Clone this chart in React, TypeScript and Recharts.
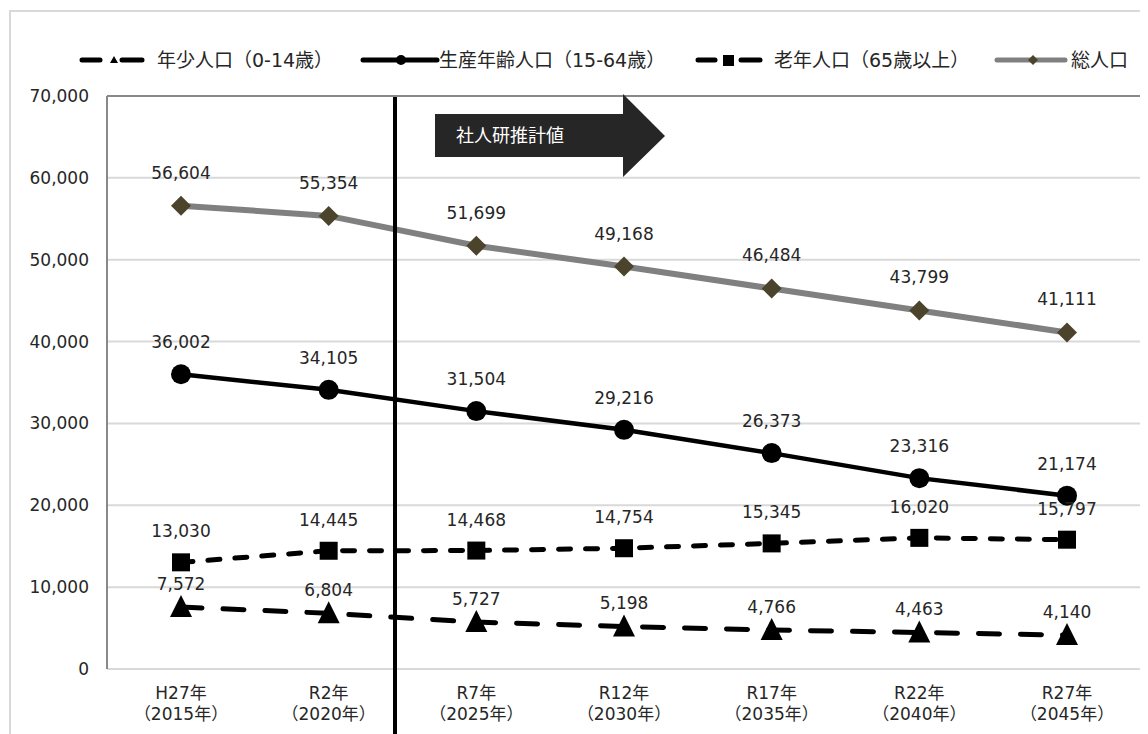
import React from "react";
import {
  LineChart,
  Line,
  XAxis,
  YAxis,
  CartesianGrid,
  ReferenceLine,
  LabelList,
} from "recharts";

const eraLabels = ["H27年", "R2年", "R7年", "R12年", "R17年", "R22年", "R27年"];
const yearLabels = ["（2015年）", "（2020年）", "（2025年）", "（2030年）", "（2035年）", "（2040年）", "（2045年）"];
const youngPop = [7572, 6804, 5727, 5198, 4766, 4463, 4140];
const workingPop = [36002, 34105, 31504, 29216, 26373, 23316, 21174];
const elderlyPop = [13030, 14445, 14468, 14754, 15345, 16020, 15797];
const totalPop = [56604, 55354, 51699, 49168, 46484, 43799, 41111];
const yTicks = [0, 10000, 20000, 30000, 40000, 50000, 60000, 70000];

const seriesNames = {
  young: "年少人口（0-14歳）",
  working: "生産年齢人口（15-64歳）",
  elderly: "老年人口（65歳以上）",
  total: "総人口",
};

const data = eraLabels.map((era, i) => ({
  era,
  year: yearLabels[i],
  young: youngPop[i],
  working: workingPop[i],
  elderly: elderlyPop[i],
  total: totalPop[i],
}));

const FONT = "'DejaVu Sans', 'Noto Sans CJK JP', sans-serif";
const TEXT = "#262626";
const fmt = (v: any) => Number(v).toLocaleString("en-US");

const TriangleDot = (p: any) => {
  const { cx, cy } = p;
  if (cx == null || cy == null) return null;
  return <polygon points={`${cx},${cy - 12} ${cx + 11},${cy + 10} ${cx - 11},${cy + 10}`} fill="#000" />;
};
const SquareDot = (p: any) => {
  const { cx, cy } = p;
  if (cx == null || cy == null) return null;
  return <rect x={cx - 9} y={cy - 9} width={18} height={18} fill="#000" />;
};
const CircleDot = (p: any) => {
  const { cx, cy } = p;
  if (cx == null || cy == null) return null;
  return <circle cx={cx} cy={cy} r={10} fill="#000" />;
};
const DiamondDot = (p: any) => {
  const { cx, cy } = p;
  if (cx == null || cy == null) return null;
  return <polygon points={`${cx},${cy - 10} ${cx + 10},${cy} ${cx},${cy + 10} ${cx - 10},${cy}`} fill="#4b432b" />;
};

const XTick = (p: any) => {
  const { x, y, payload } = p;
  const i = payload.index;
  return (
    <g transform={`translate(${x},${y})`}>
      <text textAnchor="middle" fontSize={17} fontFamily={FONT} fill={TEXT}>
        <tspan x={0} dy={28}>{eraLabels[i]}</tspan>
        <tspan x={0} dy={21}>{yearLabels[i]}</tspan>
      </text>
    </g>
  );
};

const LegendSwatch = ({ kind }: { kind: string }) => {
  if (kind === "young")
    return (
      <svg width={66} height={14} style={{ display: "block" }}>
        <line x1={3} y1={7} x2={21} y2={7} stroke="#000" strokeWidth={5} strokeLinecap="round" />
        <polygon points="35,3 39,10 31,10" fill="#000" />
        <line x1={43} y1={7} x2={63} y2={7} stroke="#000" strokeWidth={5} strokeLinecap="round" />
      </svg>
    );
  if (kind === "working")
    return (
      <svg width={80} height={14} style={{ display: "block" }}>
        <line x1={3} y1={7} x2={77} y2={7} stroke="#000" strokeWidth={5} strokeLinecap="round" />
        <circle cx={41} cy={7} r={5} fill="#000" />
      </svg>
    );
  if (kind === "elderly")
    return (
      <svg width={68} height={14} style={{ display: "block" }}>
        <line x1={3} y1={7} x2={20} y2={7} stroke="#000" strokeWidth={5} strokeLinecap="round" />
        <rect x={28} y={2} width={11} height={11} fill="#000" />
        <line x1={46} y1={7} x2={65} y2={7} stroke="#000" strokeWidth={5} strokeLinecap="round" />
      </svg>
    );
  return (
    <svg width={74} height={14} style={{ display: "block" }}>
      <line x1={3} y1={7} x2={71} y2={7} stroke="#808080" strokeWidth={5} strokeLinecap="round" />
      <polygon points="39,2 44,7 39,12 34,7" fill="#4b432b" />
    </svg>
  );
};

const legendItems = [
  { kind: "young", left: 79, textLeft: 157 },
  { kind: "working", left: 360, textLeft: 439 },
  { kind: "elderly", left: 695, textLeft: 774 },
  { kind: "total", left: 994, textLeft: 1071 },
];

export default function App() {
  return (
    <div style={{ position: "relative", width: 1140, height: 726, overflow: "hidden", fontFamily: FONT }}>
      <div
        style={{
          position: "absolute",
          left: 1,
          top: 2,
          width: 1160,
          height: 760,
          borderLeft: "2px solid #d9d9d9",
          borderTop: "2px solid #d9d9d9",
          boxSizing: "border-box",
        }}
      />
      {legendItems.map((it) => (
        <React.Fragment key={it.kind}>
          <div style={{ position: "absolute", left: it.left - 8, top: 45 }}>
            <LegendSwatch kind={it.kind} />
          </div>
          <div
            style={{
              position: "absolute",
              left: it.textLeft - 8,
              top: 39,
              fontSize: 19,
              lineHeight: "26px",
              color: TEXT,
              whiteSpace: "nowrap",
            }}
          >
            {seriesNames[it.kind as keyof typeof seriesNames]}
          </div>
        </React.Fragment>
      ))}
      <div style={{ position: "absolute", left: 0, top: 0 }}>
        <LineChart
          width={1140}
          height={726}
          data={data}
          margin={{ top: 88, right: 6, left: 19, bottom: 15 }}
        >
          <CartesianGrid vertical={false} stroke="#d9d9d9" strokeWidth={2} />
          <XAxis
            dataKey="era"
            tick={<XTick />}
            tickLine={false}
            tickSize={0}
            height={50}
            padding={{ left: 74, right: 74 }}
            axisLine={{ stroke: "#d9d9d9", strokeWidth: 2 }}
            interval={0}
          />
          <YAxis
            domain={[0, 70000]}
            ticks={yTicks}
            tickFormatter={fmt}
            width={80}
            tickSize={0}
            tickMargin={18}
            tickLine={false}
            axisLine={{ stroke: "#898989", strokeWidth: 2 }}
            tick={{ fontSize: 17, fill: TEXT, fontFamily: FONT }}
            interval={0}
          />
          <YAxis
            yAxisId="right"
            orientation="right"
            domain={[0, 70000]}
            width={1}
            tick={false}
            tickLine={false}
            axisLine={{ stroke: "#898989", strokeWidth: 2 }}
          />
          <ReferenceLine y={70000} stroke="#898989" strokeWidth={2} />
          <Line
            dataKey="total"
            stroke="#808080"
            strokeWidth={6}
            dot={<DiamondDot />}
            activeDot={false}
            isAnimationActive={false}
          >
            <LabelList dataKey="total" position="top" offset={27} formatter={fmt} fontSize={17} fill={TEXT} fontFamily={FONT} />
          </Line>
          <Line
            dataKey="working"
            stroke="#000"
            strokeWidth={4.5}
            dot={<CircleDot />}
            activeDot={false}
            isAnimationActive={false}
          >
            <LabelList dataKey="working" position="top" offset={26} formatter={fmt} fontSize={17} fill={TEXT} fontFamily={FONT} />
          </Line>
          <Line
            dataKey="elderly"
            stroke="#000"
            strokeWidth={5}
            strokeDasharray="12 15"
            strokeLinecap="round"
            dot={<SquareDot />}
            activeDot={false}
            isAnimationActive={false}
          >
            <LabelList dataKey="elderly" position="top" offset={25} formatter={fmt} fontSize={17} fill={TEXT} fontFamily={FONT} />
          </Line>
          <Line
            dataKey="young"
            stroke="#000"
            strokeWidth={5}
            strokeDasharray="21 21"
            strokeLinecap="round"
            dot={<TriangleDot />}
            activeDot={false}
            isAnimationActive={false}
          >
            <LabelList dataKey="young" position="top" offset={17} formatter={fmt} fontSize={17} fill={TEXT} fontFamily={FONT} />
          </Line>
        </LineChart>
      </div>
      <div style={{ position: "absolute", left: 385, top: 89, width: 4, height: 640, background: "#000" }} />
      <svg style={{ position: "absolute", left: 420, top: 80 }} width={250} height={95}>
        <polygon points="7,26 195,26 195,6 237,48 195,89 195,69 7,69" fill="#262626" />
        <text x={28} y={54} fill="#fff" fontSize={18} fontFamily="'Noto Sans CJK JP', sans-serif">
          社人研推計値
        </text>
      </svg>
    </div>
  );
}
